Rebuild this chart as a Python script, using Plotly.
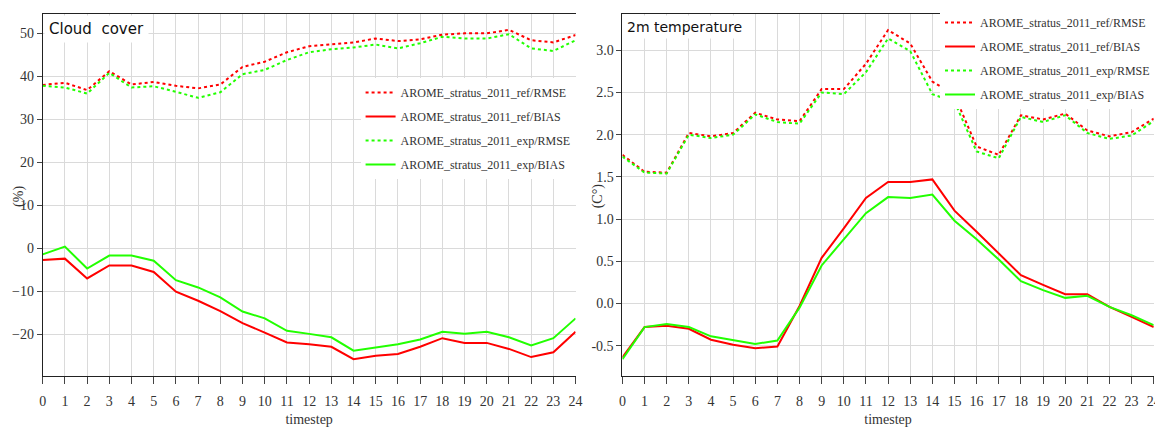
import plotly.graph_objects as go

# page body has an 8px margin: figure is drawn from (8, 8) in the window
OFF = 8
W, H = 1163 - OFF, 427 - OFF
timesteps = list(range(25))
tick_labels = [str(t) for t in timesteps]

series_names = ["AROME_stratus_2011_ref/RMSE", "AROME_stratus_2011_ref/BIAS",
                "AROME_stratus_2011_exp/RMSE", "AROME_stratus_2011_exp/BIAS"]

# Cloud cover (%)
cc_ref_rmse = [38.0, 38.5, 36.8, 41.2, 38.1, 38.7, 37.8, 37.2, 38.1, 42.2, 43.4, 45.6, 47.0,
               47.4, 47.9, 48.8, 48.2, 48.6, 49.7, 50.0, 50.0, 50.8, 48.4, 47.9, 49.6]
cc_ref_bias = [-2.7, -2.4, -7.0, -4.0, -4.0, -5.5, -10.1, -12.2, -14.6, -17.4, -19.6, -21.9, -22.3,
               -22.9, -25.8, -25.0, -24.6, -22.9, -20.9, -22.0, -22.0, -23.4, -25.3, -24.2, -19.4]
cc_exp_rmse = [37.8, 37.4, 36.0, 40.8, 37.4, 37.7, 36.4, 35.0, 36.3, 40.5, 41.5, 43.8, 45.6,
               46.3, 46.7, 47.4, 46.5, 47.7, 49.2, 48.8, 48.8, 49.8, 46.5, 45.9, 48.4]
cc_exp_bias = [-1.4, 0.4, -4.7, -1.7, -1.7, -2.9, -7.4, -9.1, -11.4, -14.7, -16.3, -19.2, -19.9,
               -20.7, -23.8, -23.1, -22.3, -21.2, -19.4, -19.9, -19.4, -20.7, -22.6, -20.9, -16.3]

# 2m temperature (C°)
t2_ref_rmse = [1.76, 1.56, 1.55, 2.02, 1.98, 2.02, 2.26, 2.18, 2.16, 2.54, 2.54, 2.84, 3.24,
               3.08, 2.63, 2.47, 1.86, 1.76, 2.23, 2.18, 2.25, 2.05, 1.98, 2.03, 2.19]
t2_ref_bias = [-0.64, -0.28, -0.265, -0.30, -0.43, -0.49, -0.53, -0.51, -0.03, 0.54, 0.89, 1.25, 1.44,
               1.44, 1.47, 1.10, 0.85, 0.59, 0.335, 0.22, 0.11, 0.11, -0.04, -0.16, -0.28]
t2_exp_rmse = [1.74, 1.55, 1.54, 2.00, 1.96, 2.00, 2.24, 2.15, 2.13, 2.50, 2.48, 2.74, 3.14,
               2.99, 2.48, 2.39, 1.80, 1.72, 2.21, 2.15, 2.23, 2.02, 1.95, 1.99, 2.16]
t2_exp_bias = [-0.66, -0.28, -0.245, -0.28, -0.39, -0.435, -0.48, -0.44, -0.05, 0.45, 0.76, 1.07, 1.26,
               1.25, 1.29, 0.98, 0.76, 0.52, 0.264, 0.158, 0.066, 0.09, -0.04, -0.14, -0.257]

RED = "#ff0000"
GREEN = "#22ff00"
styles = [(RED, "dot"), (RED, "solid"), (GREEN, "dot"), (GREEN, "solid")]

fig = go.Figure()

panels = [
    ("x", "y", "legend", [cc_ref_rmse, cc_ref_bias, cc_exp_rmse, cc_exp_bias]),
    ("x2", "y2", "legend2", [t2_ref_rmse, t2_ref_bias, t2_exp_rmse, t2_exp_bias]),
]
for xa, ya, lg, data in panels:
    for i, (name, vals, (col, dash)) in enumerate(zip(series_names, data, styles)):
        fig.add_trace(go.Scatter(
            x=timesteps, y=vals, name=name, mode="lines",
            line=dict(color=col, width=2, dash=dash),
            xaxis=xa, yaxis=ya, legend=lg, legendgroup=f"{lg}_{i}",
            hoverinfo="skip",
        ))

def px2x(p):
    return (p - OFF) / W

def px2y(p):
    return 1 - (p - OFF) / H

SERIF = "Liberation Serif"
GRID = "#dadada"
ydom = [px2y(376), px2y(14)]

xcommon = dict(
    range=[0, 24], tickvals=timesteps, ticktext=tick_labels,
    showgrid=True, gridcolor=GRID, gridwidth=1,
    showline=True, linecolor="#222", linewidth=1, mirror=True,
    ticks="outside", ticklen=7, tickcolor="#444", ticklabelstandoff=5,
    tickfont=dict(family=SERIF, size=14, color="#333"),
    zeroline=False,
    title=dict(text="timestep", font=dict(family=SERIF, size=14, color="#333"), standoff=6),
)
ycommon = dict(
    showgrid=True, gridcolor=GRID, gridwidth=1,
    showline=True, linecolor="#222", linewidth=1,
    ticks="outside", ticklen=5, tickcolor="#444",
    tickfont=dict(family=SERIF, size=14, color="#333"),
    zeroline=False,
)

legend_common = dict(xanchor="right", yanchor="top", bgcolor="white", borderwidth=0,
                     traceorder="grouped", tracegroupgap=5, itemwidth=30,
                     font=dict(family=SERIF, size=12, color="#333"))

fig.update_layout(
    width=W, height=H,
    margin=dict(l=0, r=0, t=0, b=0),
    paper_bgcolor="white", plot_bgcolor="white",
    showlegend=True,
    xaxis=dict(domain=[px2x(39), px2x(577)], anchor="y", **xcommon),
    yaxis=dict(domain=ydom, anchor="x", range=[-29.7, 54.5],
               tickvals=[-20, -10, 0, 10, 20, 30, 40, 50], **ycommon),
    xaxis2=dict(domain=[px2x(624.3), px2x(1160.7)], anchor="y2", **xcommon),
    yaxis2=dict(domain=ydom, anchor="x2", range=[-0.86, 3.43],
                tickvals=[-0.5, 0.0, 0.5, 1.0, 1.5, 2.0, 2.5, 3.0],
                ticktext=["-0.5", "0.0", "0.5", "1.0", "1.5", "2.0", "2.5", "3.0"], **ycommon),
    legend=dict(x=px2x(577), y=px2y(78), **legend_common),
    legend2=dict(x=px2x(1162), y=1.0, **legend_common),
)

# Panel titles
fig.add_annotation(text="Cloud  cover", xref="paper", yref="paper", x=px2x(40), y=px2y(15),
                   xanchor="left", yanchor="top", showarrow=False, bgcolor="white", borderpad=4,
                   font=dict(family="DejaVu Sans", size=15, color="#111"), align="left")
fig.add_annotation(text="2m temperature", xref="paper", yref="paper", x=px2x(625.3), y=px2y(15),
                   xanchor="left", yanchor="top", showarrow=False, bgcolor="white", borderpad=3,
                   font=dict(family="DejaVu Sans", size=14, color="#111"), align="left")
# Y axis titles
fig.add_annotation(text="(%)", xref="paper", yref="paper", x=px2x(15), y=px2y(196),
                   xanchor="center", yanchor="middle", showarrow=False, textangle=-90,
                   font=dict(family=SERIF, size=14, color="#333"))
fig.add_annotation(text="(C°)", xref="paper", yref="paper", x=px2x(600), y=px2y(196),
                   xanchor="center", yanchor="middle", showarrow=False, textangle=-90,
                   font=dict(family=SERIF, size=14, color="#333"))

fig.write_html("out.html")
